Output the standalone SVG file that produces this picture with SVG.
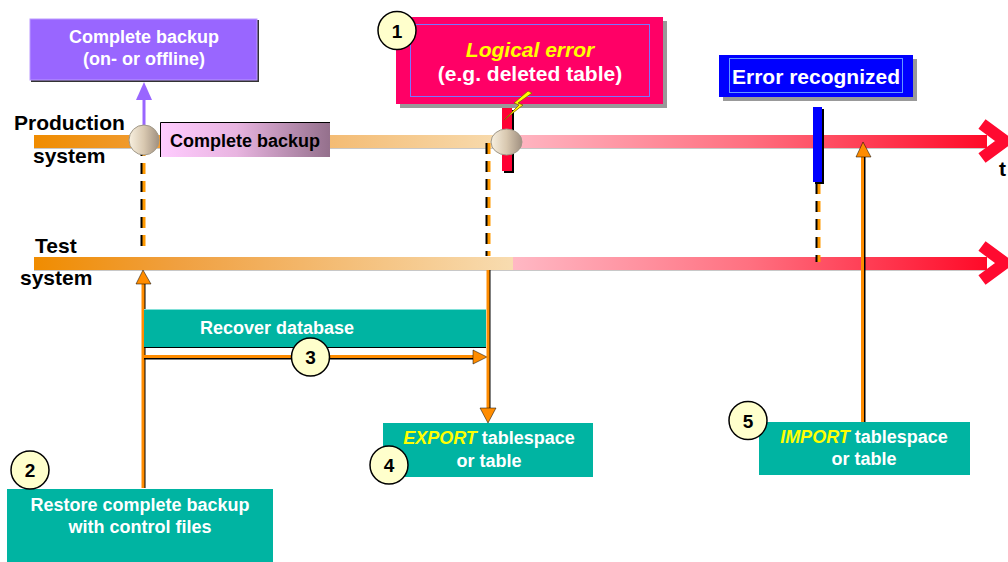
<svg xmlns="http://www.w3.org/2000/svg" width="1008" height="562" viewBox="0 0 1008 562">
<defs>
<style>
text{font-family:"Liberation Sans",Arial,sans-serif;font-weight:bold}
.w{fill:#ffffff;font-size:18px}
.big{font-size:21px}
.blk{fill:#000000;font-size:21px}
.y{fill:#ffff00;font-style:italic}
.num{fill:#000;font-size:19px;text-anchor:middle}
.nc{fill:#ffffcc;stroke:#000;stroke-width:1.5}
.teal{fill:#00b4a2}
.or{stroke:#ff8c00;stroke-width:3;fill:none}
.sh{stroke:#000;stroke-width:3;fill:none}
.dashO{stroke:#ff9900;stroke-width:3;stroke-dasharray:11 7;fill:none}
.dashK{stroke:#000;stroke-width:3;stroke-dasharray:11 7;fill:none}
</style>
<linearGradient id="gProdA" x1="0" x2="1" y1="0" y2="0">
<stop offset="0" stop-color="#f08c00"/><stop offset="0.3" stop-color="#f0a040"/><stop offset="1" stop-color="#f8dcb0"/>
</linearGradient>
<linearGradient id="gRed" x1="0" x2="1" y1="0" y2="0">
<stop offset="0" stop-color="#ffb8c4"/><stop offset="0.5" stop-color="#ff7080"/><stop offset="1" stop-color="#ff0a28"/>
</linearGradient>
<linearGradient id="gBk" x1="0" x2="1" y1="0" y2="0">
<stop offset="0" stop-color="#ffccff"/><stop offset="0.45" stop-color="#e8b4e0"/><stop offset="1" stop-color="#94708c"/>
</linearGradient>
<linearGradient id="gBall" x1="0" x2="1" y1="0" y2="0">
<stop offset="0" stop-color="#f8f0e0"/><stop offset="0.5" stop-color="#d8c8b0"/><stop offset="1" stop-color="#a09080"/>
</linearGradient>
</defs>
<rect x="0" y="0" width="1008" height="562" fill="#ffffff"/>

<!-- timelines -->
<g id="production-line">
<rect x="34" y="135" width="473" height="13" fill="url(#gProdA)"/>
<rect x="507" y="135" width="480" height="13" fill="url(#gRed)"/>
<line x1="34" y1="148.5" x2="987" y2="148.5" stroke="#c8c8c8" stroke-width="1"/>
<polyline points="982,124 1005,141 982,158" fill="none" stroke="#ff0a30" stroke-width="12" stroke-linejoin="miter"/>
</g>
<g id="test-line">
<rect x="34" y="257" width="479" height="13" fill="url(#gProdA)"/>
<rect x="513" y="257" width="474" height="13" fill="url(#gRed)"/>
<line x1="34" y1="270.5" x2="987" y2="270.5" stroke="#c8c8c8" stroke-width="1"/>
<polyline points="982,246 1005,263 982,280" fill="none" stroke="#ff0a30" stroke-width="12" stroke-linejoin="miter"/>
</g>
<text class="blk" x="14" y="130">Production</text>
<text class="blk" x="33" y="163">system</text>
<text class="blk" x="35" y="253">Test</text>
<text class="blk" x="20" y="285">system</text>
<text class="blk" x="999" y="176">t</text>

<!-- connectors -->
<g id="connectors">
<line x1="144" y1="128" x2="144" y2="98" stroke="#9966ff" stroke-width="3"/>
<polygon points="144,82 136,100 152,100" fill="#9966ff"/>
<line class="dashK" x1="142" y1="145" x2="142" y2="250"/>
<line class="dashO" x1="144" y1="145" x2="144" y2="250"/>
<line class="dashK" x1="487" y1="143" x2="487" y2="256"/>
<line class="dashO" x1="489" y1="143" x2="489" y2="256"/>
<line class="dashK" x1="817" y1="183" x2="817" y2="262"/>
<line class="dashO" x1="819" y1="183" x2="819" y2="262"/>
<line class="sh" x1="144" y1="283" x2="144" y2="488"/>
<line class="or" x1="143" y1="283" x2="143" y2="488"/>
<polygon points="143,270 136,284 151,284" fill="#ff8c00" stroke="#000" stroke-width="0.5"/>
<line class="sh" x1="144" y1="358" x2="474" y2="358"/>
<line class="or" x1="144" y1="356.5" x2="474" y2="356.5"/>
<polygon points="487,357 473,350 473,364" fill="#ff8c00" stroke="#000" stroke-width="0.5"/>
<line class="sh" x1="489" y1="270" x2="489" y2="409"/>
<line class="or" x1="488" y1="270" x2="488" y2="409"/>
<polygon points="488,423 480,408 496,408" fill="#ff8c00" stroke="#000" stroke-width="0.5"/>
<line class="sh" x1="864" y1="156" x2="864" y2="422"/>
<line class="or" x1="862.5" y1="156" x2="862.5" y2="422"/>
<polygon points="863,142 856,157 871,157" fill="#ff8c00" stroke="#000" stroke-width="0.5"/>
</g>

<g id="red-bar">
<rect x="504" y="110" width="10" height="63" fill="#000"/>
<rect x="502" y="108" width="10" height="63" fill="#ff0033"/>
</g>
<g id="blue-bar">
<rect x="815" y="109" width="9" height="75" fill="#000"/>
<rect x="813" y="107" width="9" height="75" fill="#0000ff"/>
</g>
<g id="ball-backup">
<ellipse cx="144" cy="140" rx="15" ry="15" fill="url(#gBall)" stroke="#a09888" stroke-width="1"/>
</g>
<g id="ball-error">
<ellipse cx="506.5" cy="142" rx="15.5" ry="13" fill="url(#gBall)" stroke="#a09888" stroke-width="1"/>
</g>

<!-- nodes -->
<g id="complete-backup-top">
<rect x="31" y="20" width="228" height="62" fill="#333"/>
<rect x="30" y="19" width="227" height="61" fill="#9966ff" stroke="#bb99ff" stroke-width="1"/>
<text class="w" x="144" y="43" text-anchor="middle">Complete backup</text>
<text class="w" x="144" y="65" text-anchor="middle">(on- or offline)</text>
</g>
<g id="complete-backup-bar">
<rect x="160" y="122" width="170" height="35" fill="url(#gBk)"/>
<polyline points="160.5,157 160.5,122.5 330,122.5" fill="none" stroke="#000" stroke-width="1"/>
<text x="170" y="147" fill="#000" font-size="18px">Complete backup</text>
</g>
<g id="logical-error">
<rect x="400" y="21" width="267" height="87" fill="#999999"/>
<rect x="396" y="17" width="267" height="87" fill="#ff0066"/>
<rect x="410.5" y="24.5" width="239" height="72" fill="none" stroke="#7777ff" stroke-width="1"/>
<text class="w big y" x="530" y="57" text-anchor="middle">Logical error</text>
<text class="w big" x="530" y="81" text-anchor="middle">(e.g. deleted table)</text>
<polygon points="528,91 514,103 519,105 504,120 523,105 518,103 532,93" fill="#ffff00" stroke="#806000" stroke-width="0.8"/>
</g>
<g id="error-recognized">
<rect x="723" y="59" width="194" height="42" fill="#999999"/>
<rect x="719" y="55" width="194" height="42" fill="#0000ff"/>
<rect x="729.5" y="58.5" width="173" height="34" fill="none" stroke="#6699ff" stroke-width="1"/>
<text class="w big" x="816" y="84" text-anchor="middle">Error recognized</text>
</g>
<g id="recover-database">
<rect class="teal" x="144" y="309" width="342" height="39"/>
<line x1="144" y1="309.5" x2="486" y2="309.5" stroke="#80e0d8" stroke-width="1"/>
<line x1="144" y1="347.5" x2="486" y2="347.5" stroke="#000" stroke-width="1"/>
<text class="w" x="277" y="334" text-anchor="middle">Recover database</text>
</g>
<g id="restore-backup">
<rect class="teal" x="7" y="489" width="266" height="73"/>
<text class="w" x="140" y="511" text-anchor="middle">Restore complete backup</text>
<text class="w" x="140" y="533" text-anchor="middle">with control files</text>
</g>
<g id="export">
<rect class="teal" x="383" y="423" width="210" height="54"/>
<text class="w" x="489" y="444" text-anchor="middle"><tspan class="y">EXPORT</tspan> tablespace</text>
<text class="w" x="489" y="467" text-anchor="middle">or table</text>
</g>
<g id="import">
<rect class="teal" x="759" y="422" width="211" height="53"/>
<text class="w" x="864" y="443" text-anchor="middle"><tspan class="y">IMPORT</tspan> tablespace</text>
<text class="w" x="864" y="465" text-anchor="middle">or table</text>
</g>

<g id="step-1"><circle class="nc" cx="397" cy="30.5" r="19"/><text class="num" x="397" y="37.5">1</text></g>
<g id="step-2"><circle class="nc" cx="30" cy="470" r="19"/><text class="num" x="30" y="477">2</text></g>
<g id="step-3"><circle class="nc" cx="310.5" cy="357" r="19"/><text class="num" x="310.5" y="364">3</text></g>
<g id="step-4"><circle class="nc" cx="389" cy="465" r="19"/><text class="num" x="389" y="472">4</text></g>
<g id="step-5"><circle class="nc" cx="748" cy="420.5" r="19"/><text class="num" x="748" y="427.5">5</text></g>
</svg>
